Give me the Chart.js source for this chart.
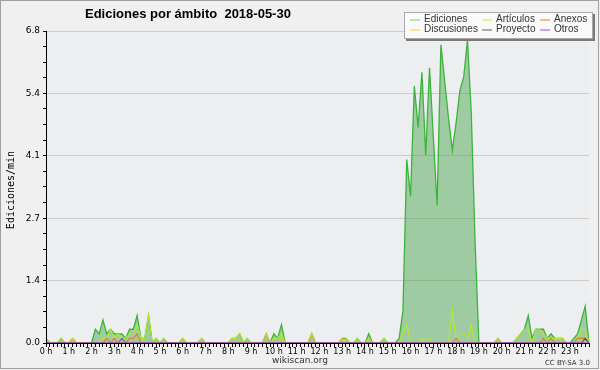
<!DOCTYPE html>
<html>
<head>
<meta charset="utf-8">
<script src="https://cdn.jsdelivr.net/npm/chart.js@4.4.1/dist/chart.umd.min.js"></script>
<style>
html, body { margin: 0; padding: 0; background: #f0f0f0; }
canvas { display: block; }
</style>
</head>
<body>
<canvas id="chart" width="600" height="370"></canvas>
<script>
// one value every 10 minutes, 144 per day
const hourLabels = ['0 h','1 h','2 h','3 h','4 h','5 h','6 h','7 h','8 h','9 h','10 h','11 h',
  '12 h','13 h','14 h','15 h','16 h','17 h','18 h','19 h','20 h','21 h','22 h','23 h'];

const ediciones = [
  0.1,0,0,0,0.1,0,0,0.1,0,0,0,0,
  0,0.3,0.2,0.5,0.2,0.3,0.2,0.2,0.2,0.1,0.3,0.3,
  0.6,0.1,0.1,0.6,0,0.1,0,0.1,0,0,0,0,
  0.1,0,0,0,0,0.1,0,0,0,0,0,0,
  0,0.1,0.1,0.2,0,0.1,0,0,0,0,0.2,0,
  0.2,0.1,0.4,0,0,0,0,0,0,0,0.2,0,
  0,0,0,0,0,0,0.1,0.1,0,0,0.1,0,
  0,0.2,0,0,0,0.1,0,0,0,0.1,0.7,4.0,
  3.2,5.6,4.7,5.9,4.1,6.0,4.5,3.0,6.5,5.7,4.9,4.2,
  4.8,5.5,5.8,6.6,5.0,2.2,0,0,0,0,0,0.1,
  0,0,0,0,0.1,0.2,0.3,0.6,0.1,0.3,0.3,0.3,
  0.1,0.2,0.1,0.1,0.1,0,0,0.1,0.2,0.5,0.8,0
];
const articulos = [
  0.1,0,0,0,0.1,0,0,0,0,0,0,0,
  0,0,0,0.1,0.1,0.3,0.1,0.2,0.1,0.1,0.2,0.2,
  0.4,0.1,0.1,0.6,0,0.1,0,0.1,0,0,0,0,
  0.1,0,0,0,0,0.1,0,0,0,0,0,0,
  0,0.1,0.1,0.2,0,0.1,0,0,0,0,0,0,
  0.1,0.1,0.2,0,0,0,0,0,0,0,0,0,
  0,0,0,0,0,0,0,0.1,0,0,0.1,0,
  0,0.1,0,0,0,0.1,0,0,0,0,0.2,0.4,
  0,0,0,0.1,0,0.1,0,0,0,0,0,0.7,
  0.1,0.2,0.2,0.1,0.4,0,0,0,0,0,0,0,
  0,0,0,0,0.1,0.2,0.3,0.3,0,0.3,0.3,0.2,
  0.1,0.1,0.1,0.1,0.1,0,0,0,0.1,0.3,0.3,0
];
const anexos = [
  0,0,0,0,0,0,0,0,0,0,0,0,
  0,0,0,0,0.1,0,0.1,0,0,0,0.1,0.1,
  0.2,0,0,0,0,0,0,0,0,0,0,0,
  0,0,0,0,0,0,0,0,0,0,0,0,
  0,0,0,0,0,0,0,0,0,0,0,0,
  0,0,0,0,0,0,0,0,0,0,0,0,
  0,0,0,0,0,0,0,0,0,0,0,0,
  0,0,0,0,0,0,0,0,0,0,0,0,
  0,0,0,0,0,0,0,0,0,0,0,0,
  0.1,0,0,0,0,0,0,0,0,0,0,0,
  0,0,0,0,0,0,0,0,0,0,0,0.1,
  0,0.1,0,0,0,0,0,0,0.1,0.1,0.1,0
];
const discusiones = [
  0,0,0,0,0,0,0,0.1,0,0,0,0,
  0,0,0,0,0,0,0,0,0,0,0,0,
  0,0,0,0,0,0,0,0,0,0,0,0,
  0,0,0,0,0,0,0,0,0,0,0,0,
  0,0,0,0,0,0,0,0,0,0,0.2,0,
  0,0,0.1,0,0,0,0,0,0,0,0.2,0,
  0,0,0,0,0,0,0.1,0,0,0,0,0,
  0,0,0,0,0,0,0,0,0,0,0,0,
  0,0,0,0,0,0,0,0,0,0,0,0,
  0,0,0,0,0,0,0,0,0,0,0,0.1,
  0,0,0,0,0,0,0,0,0,0,0,0,
  0,0,0,0,0,0,0,0,0,0,0,0
];
const proyecto = [
  0,0,0,0,0,0,0,0,0,0,0,0,
  0,0,0,0,0,0,0,0,0,0,0,0,
  0,0,0,0,0,0,0,0,0,0,0,0,
  0,0,0,0,0,0,0,0,0,0,0,0,
  0,0,0,0,0,0,0,0,0,0,0,0,
  0,0,0,0,0,0,0,0,0,0,0,0,
  0,0,0,0,0,0,0,0,0,0,0,0,
  0,0,0,0,0,0,0,0,0,0,0,0,
  0,0,0,0,0,0,0,0,0,0,0,0,
  0,0,0,0,0,0,0,0,0,0,0,0,
  0,0,0,0,0,0,0,0,0,0,0,0,
  0,0,0,0,0,0,0,0,0,0,0.1,0
];
const otros = [
  0,0,0,0,0,0,0,0,0,0,0,0,
  0,0,0,0,0,0,0,0,0.1,0,0,0,
  0,0,0,0,0,0,0,0,0,0,0,0,
  0,0,0,0,0,0,0,0,0,0,0,0,
  0,0,0,0,0,0,0,0,0,0,0,0,
  0,0,0,0,0,0,0,0,0,0,0,0,
  0,0,0,0,0,0,0,0,0,0,0,0,
  0,0,0,0,0,0,0,0,0,0,0,0,
  0,0,0,0,0,0,0,0,0,0,0,0,
  0,0,0,0,0,0,0,0,0,0,0,0,
  0,0,0,0,0,0,0,0,0,0,0,0,
  0,0,0,0,0,0,0,0,0,0,0,0
];

const yTicks = [0, 1.36, 2.72, 4.08, 5.44, 6.8];
const seriesNames = ['Ediciones','Artículos','Anexos','Discusiones','Proyecto','Otros'];
const seriesColors = ['#3cb33c','#b4ec1e','#f07828','#f2c81e','#505050','#9a3cf0'];
const legendColors = ['#78d078','#c8ee50','#f07840','#f8d040','#606060','#a048f8'];

// 6 slots per hour, label only on the hour
const labels = hourLabels.flatMap(h => [h, '', '', '', '', '']);

// y ticks every quarter of a major step, labels on major ones
function buildYTicks(scale) {
  const out = [];
  for (let k = 0; k < yTicks.length; k++) {
    out.push({ value: yTicks[k], major: true });
    if (k < yTicks.length - 1) {
      const step = (yTicks[k + 1] - yTicks[k]) / 4;
      for (let m = 1; m < 4; m++) out.push({ value: yTicks[k] + step * m, major: false });
    }
  }
  scale.ticks = out;
}

const decor = {
  id: 'decor',
  beforeDraw(chart) {
    const c = chart.ctx, a = chart.chartArea;
    c.save();
    c.fillStyle = '#f0f0f0';
    c.fillRect(0, 0, chart.width, chart.height);
    c.fillStyle = '#eceef0';
    c.fillRect(a.left, a.top, a.right - a.left, a.bottom - a.top);
    c.restore();
  },
  afterDatasetsDraw(chart) {
    // axis lines go over the zero-valued series
    const c = chart.ctx, a = chart.chartArea;
    c.save();
    c.strokeStyle = '#000';
    c.lineWidth = 1;
    c.beginPath();
    c.moveTo(a.left, Math.round(a.bottom) + 0.5);
    c.lineTo(a.right, Math.round(a.bottom) + 0.5);
    c.moveTo(Math.round(a.left) + 0.5, a.top);
    c.lineTo(Math.round(a.left) + 0.5, a.bottom);
    c.stroke();
    c.restore();
  },
  afterDraw(chart) {
    const c = chart.ctx;
    c.save();
    // outer frame
    c.strokeStyle = '#a0a0a0';
    c.lineWidth = 1;
    c.strokeRect(0.5, 0.5, chart.width - 2, chart.height - 2);

    // title
    c.fillStyle = '#000';
    c.font = 'bold 13px "Liberation Sans"';
    c.textBaseline = 'middle';
    c.textAlign = 'left';
    c.fillText('Ediciones por ámbito  2018-05-30', 85, 14);

    // y axis title
    c.save();
    c.translate(11, 190);
    c.rotate(-Math.PI / 2);
    c.textAlign = 'center';
    c.font = '10px "DejaVu Sans Mono"';
    c.fillStyle = '#000';
    c.fillText('Ediciones/min', 0, 0);
    c.restore();

    // legend box
    c.fillStyle = '#7a7a7a';
    c.fillRect(406, 14, 189, 27);
    c.fillStyle = '#fafafa';
    c.fillRect(404, 12, 189, 27);
    c.strokeStyle = '#a8a8a8';
    c.strokeRect(404.5, 12.5, 188, 26);
    c.font = '10px "Liberation Sans"';
    c.textAlign = 'left';
    const cols = [410, 482, 540];
    const rows = [19.5, 29.5];
    const order = [[0, 1, 2], [3, 4, 5]];
    order.forEach((row, r) => row.forEach((s, k) => {
      c.strokeStyle = legendColors[s];
      c.beginPath();
      c.moveTo(cols[k], rows[r] + 0.5);
      c.lineTo(cols[k] + 10, rows[r] + 0.5);
      c.stroke();
      c.fillStyle = '#333';
      c.fillText(seriesNames[s], cols[k] + 14, rows[r]);
    }));

    // footer
    c.fillStyle = '#333';
    c.font = '9px "DejaVu Sans"';
    c.textAlign = 'center';
    c.fillText('wikiscan.org', 300, 361);
    c.font = '7px "DejaVu Sans"';
    c.textAlign = 'right';
    c.fillText('CC BY-SA 3.0', 590, 363);
    c.restore();
  }
};

const values = [ediciones, articulos, anexos, discusiones, proyecto, otros];
const datasets = values.map((v, s) => ({
  label: seriesNames[s],
  data: v,
  borderColor: seriesColors[s],
  borderWidth: s === 0 ? 1.3 : 1.1,
  backgroundColor: s === 0 ? 'rgba(66,160,66,0.45)' : 'transparent',
  fill: s === 0 ? 'origin' : false,
  order: s === 0 ? 10 : 6 - s,
  pointRadius: 0,
  tension: 0
}));

new Chart(document.getElementById('chart'), {
  type: 'line',
  data: { labels: labels, datasets: datasets },
  options: {
    responsive: false,
    animation: false,
    devicePixelRatio: 1,
    layout: { padding: { left: 0, right: 11, top: 31, bottom: 0 } },
    plugins: { legend: { display: false }, tooltip: { enabled: false }, title: { display: false } },
    scales: {
      x: {
        type: 'category',
        offset: false,
        border: { color: '#000', width: 1 },
        grid: { drawOnChartArea: false, drawTicks: true, tickLength: 4, color: '#000', tickColor: '#000' },
        ticks: {
          autoSkip: false, maxRotation: 0, minRotation: 0, padding: 0,
          color: '#000', font: { family: 'DejaVu Sans', size: 8 },
          callback: function (v) { return this.getLabelForValue(v); }
        },
        afterFit: s => { s.height = 27; }
      },
      y: {
        min: 0,
        max: 6.8,
        afterBuildTicks: buildYTicks,
        border: { color: '#000', width: 1 },
        grid: {
          color: ctx => (ctx.tick && ctx.tick.major ? '#cccccc' : 'rgba(0,0,0,0)'),
          tickColor: '#000',
          tickLength: 3
        },
        ticks: {
          padding: 3, color: '#000', font: { family: 'DejaVu Sans', size: 9 },
          callback: (v, i, ticks) => (ticks[i].major ? v.toFixed(1) : '')
        },
        afterFit: s => { s.width = 46; }
      }
    }
  },
  plugins: [decor]
});
</script>
</body>
</html>
